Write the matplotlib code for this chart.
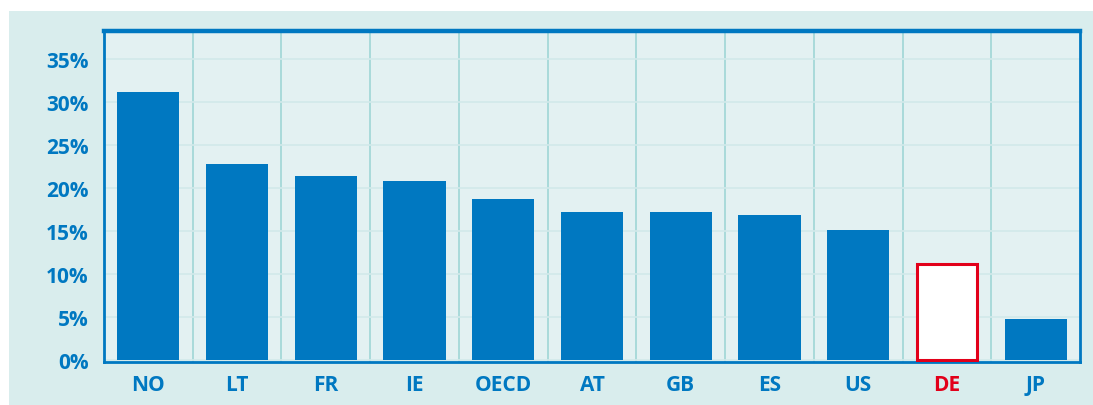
import matplotlib
matplotlib.use("Agg")
import matplotlib.pyplot as plt
from matplotlib.patches import Rectangle
from matplotlib.ticker import FuncFormatter

categories = ["NO", "LT", "FR", "IE", "OECD", "AT", "GB", "ES", "US", "DE", "JP"]
values = [31.2, 22.8, 21.4, 20.8, 18.8, 17.2, 17.2, 16.9, 15.2, 11.2, 4.8]
highlight = "DE"
yticks = [0, 5, 10, 15, 20, 25, 30, 35]

BLUE = "#0078c1"
RED = "#e2001a"
OUTER_BG = "#d9eded"
AX_BG = "#e3f1f2"

W, H = 1093, 406
fig = plt.figure(figsize=(W / 100, H / 100), dpi=100)
fig.patch.set_facecolor("white")
bg = Rectangle((9 / W, 0), 1 - 9 / W, 1 - 12 / H, transform=fig.transFigure,
               facecolor=OUTER_BG, edgecolor="none", zorder=-10)
fig.patches.append(bg)

ax = fig.add_axes([104 / W, 1 - 363 / H, (1080 - 104) / W, (363 - 32) / H])
ax.set_zorder(5)
ax.set_facecolor(AX_BG)

x = list(range(len(categories)))
for xi, cat, v in zip(x, categories, values):
    if cat == highlight:
        ax.bar(xi, v, width=0.68, color="white", edgecolor=RED, linewidth=2.2, zorder=3)
    else:
        ax.bar(xi, v, width=0.70, color=BLUE, edgecolor="none", zorder=3)

ax.set_xlim(-0.5, len(categories) - 0.5)
ax.set_ylim(-0.2, 38.3)
ax.set_yticks(yticks)
ax.yaxis.set_major_formatter(FuncFormatter(lambda v, p: f"{int(round(v))}%"))
ax.set_xticks(x)
ax.set_xticklabels(categories)
ax.set_xticks([i + 0.5 for i in x[:-1]], minor=True)

ax.grid(which="minor", axis="x", color="#9fd6d6", linewidth=1.2, zorder=1)
ax.grid(which="major", axis="y", color="#d2e9ea", linewidth=1.2, zorder=1)
ax.grid(which="major", axis="x", visible=False)
ax.set_axisbelow(True)

ax.tick_params(axis="both", which="both", length=0)
ax.tick_params(axis="y", pad=11)
ax.tick_params(axis="x", pad=9)
for lab in ax.get_yticklabels():
    lab.set_fontfamily("Open Sans")
    lab.set_fontweight("bold")
    lab.set_fontsize(15)
    lab.set_color(BLUE)
for lab in ax.get_xticklabels():
    lab.set_fontfamily("Open Sans")
    lab.set_fontweight("bold")
    lab.set_fontsize(15)
    lab.set_color(RED if lab.get_text() == highlight else BLUE)

for side, lw in [("top", 3.2), ("left", 2), ("right", 2), ("bottom", 2)]:
    ax.spines[side].set_color(BLUE)
    ax.spines[side].set_linewidth(lw)

fig.savefig("out.png", dpi=100)
